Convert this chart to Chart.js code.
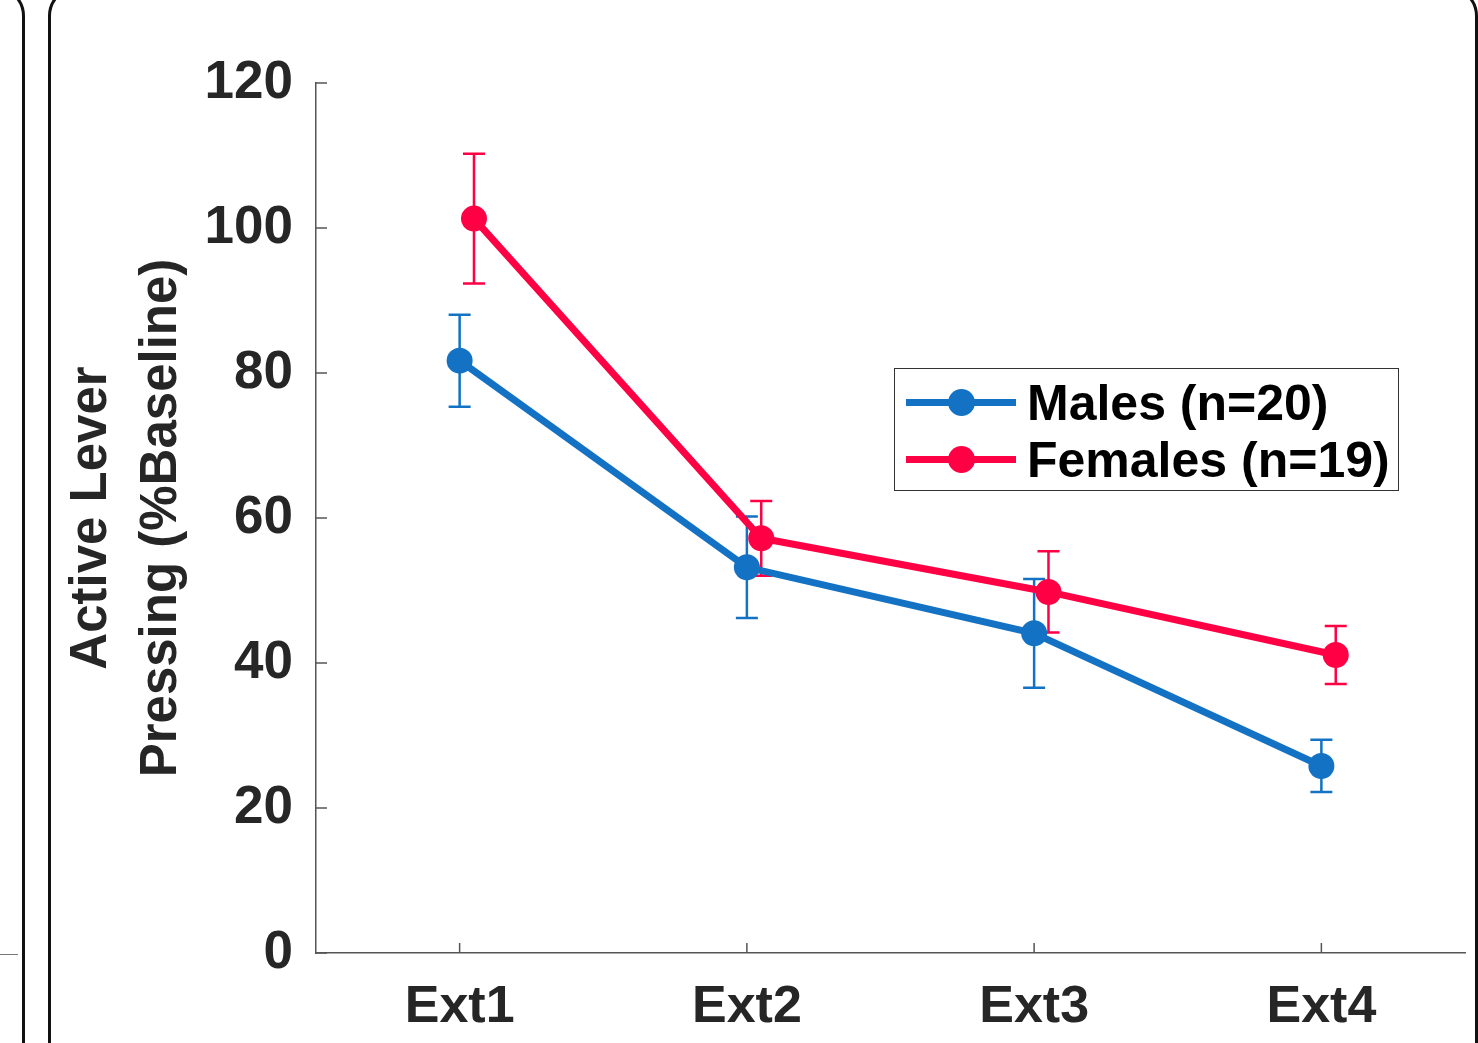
<!DOCTYPE html>
<html lang="en">
<head>
<meta charset="UTF-8">
<title>Active lever pressing during extinction</title>
<style>
  html, body { margin: 0; padding: 0; background: #fff; }
  body {
    width: 1478px;
    height: 1043px;
    position: relative;
    overflow: hidden;
    font-family: "Liberation Sans", Arial, sans-serif;
  }
  .panel {
    position: absolute;
    border: 3px solid #111;
    border-radius: 30px;
    box-sizing: border-box;
  }
  #panelLeft { left: -400px; top: -14px; width: 425px; height: 1200px; }
  #panelMain { left: 48px; top: -14px; width: 1430px; height: 1200px; }
  #stub { position: absolute; left: 0; top: 954px; width: 18px; border-top: 1.5px solid #777; }
  #chart { position: absolute; left: 0; top: 0; }
  #legend {
    position: absolute;
    left: 894px;
    top: 368px;
    width: 505px;
    height: 123px;
    box-sizing: border-box;
    border: 1.5px solid #333;
    background: #fff;
    padding: 5px 0 0 11px;
  }
  .row { display: flex; align-items: center; height: 57px; }
  .sample { position: relative; width: 110px; height: 57px; margin-right: 11px; }
  .sample .ln { position: absolute; left: 0; right: 0; top: 25px; height: 7px; }
  .sample .dot { position: absolute; left: 42px; top: 15px; width: 27px; height: 27px; border-radius: 50%; }
  .txt { font-weight: bold; font-size: 50px; color: #000; white-space: nowrap; }
</style>
<script src="https://cdn.jsdelivr.net/npm/chart.js"></script>
</head>
<body>

<div class="panel" id="panelLeft"></div>
<div class="panel" id="panelMain"></div>
<div id="stub"></div>
<canvas id="chart" width="1478" height="1043"></canvas>
<div id="legend"></div>

<script>
// data (mean +/- SEM, % of baseline)
const categories = ['Ext1', 'Ext2', 'Ext3', 'Ext4'];
const xMales = [1, 2, 3, 4];
const xFemales = [1.05, 2.05, 3.05, 4.05];
const malesMean = [81.7, 53.2, 44.1, 25.8];
const malesSem = [6.35, 7.0, 7.5, 3.6];
const femalesMean = [101.3, 57.2, 49.8, 41.1];
const femalesSem = [8.95, 5.15, 5.6, 4.0];
const yTicks = [0, 20, 40, 60, 80, 100, 120];
const seriesNames = ['Males (n=20)', 'Females (n=19)'];
const seriesColors = ['#1472C4', '#FF0045'];

const textColor = '#262626';
const axisColor = '#555';
const fontFamily = '"Liberation Sans", Arial, sans-serif';

function points(xs, ys) {
  return xs.map((x, i) => ({ x: x, y: ys[i] }));
}

// vertical error bars with caps, drawn under the lines
const errorBars = {
  id: 'errorBars',
  beforeDatasetsDraw(chart) {
    const ctx = chart.ctx;
    const xs = chart.scales.x, ys = chart.scales.y;
    chart.data.datasets.forEach(ds => {
      ctx.save();
      ctx.strokeStyle = ds.borderColor;
      ctx.lineWidth = 2.5;
      ds.data.forEach((p, i) => {
        const px = xs.getPixelForValue(p.x);
        const top = ys.getPixelForValue(p.y + ds.errors[i]);
        const bot = ys.getPixelForValue(p.y - ds.errors[i]);
        ctx.beginPath();
        ctx.moveTo(px, top); ctx.lineTo(px, bot);
        ctx.moveTo(px - 11, top); ctx.lineTo(px + 11, top);
        ctx.moveTo(px - 11, bot); ctx.lineTo(px + 11, bot);
        ctx.stroke();
      });
      ctx.restore();
    });
  }
};

// matlab style ticks pointing into the plot
const innerTicks = {
  id: 'innerTicks',
  afterDraw(chart) {
    const ctx = chart.ctx;
    const xs = chart.scales.x, ys = chart.scales.y;
    ctx.save();
    ctx.strokeStyle = axisColor;
    ctx.lineWidth = 1.5;
    ctx.beginPath();
    xs.ticks.forEach(t => {
      const px = xs.getPixelForValue(t.value);
      ctx.moveTo(px, xs.top); ctx.lineTo(px, xs.top - 10);
    });
    ys.ticks.forEach(t => {
      const py = ys.getPixelForValue(t.value);
      ctx.moveTo(ys.right, py); ctx.lineTo(ys.right + 11, py);
    });
    ctx.stroke();
    ctx.restore();
  }
};

new Chart(document.getElementById('chart'), {
  type: 'line',
  data: {
    datasets: [
      {
        label: seriesNames[0],
        data: points(xMales, malesMean),
        errors: malesSem,
        borderColor: seriesColors[0],
        backgroundColor: seriesColors[0],
        pointBackgroundColor: seriesColors[0],
        borderWidth: 7,
        pointRadius: 13,
        pointBorderWidth: 0,
        order: 1
      },
      {
        label: seriesNames[1],
        data: points(xFemales, femalesMean),
        errors: femalesSem,
        borderColor: seriesColors[1],
        backgroundColor: seriesColors[1],
        pointBackgroundColor: seriesColors[1],
        borderWidth: 7,
        pointRadius: 13,
        pointBorderWidth: 0,
        order: 0
      }
    ]
  },
  options: {
    responsive: false,
    animation: false,
    events: [],
    layout: { padding: { top: 83, right: 13, left: 0, bottom: 0 } },
    plugins: {
      legend: { display: false },
      tooltip: { enabled: false }
    },
    scales: {
      x: {
        type: 'linear',
        min: 0.5,
        max: 4.5,
        afterBuildTicks: s => { s.ticks = categories.map((c, i) => ({ value: i + 1 })); },
        afterFit: s => { s.height = 90; },
        ticks: {
          callback: v => categories[Math.round(v) - 1] || '',
          color: textColor,
          font: { family: fontFamily, size: 52, weight: 'bold' },
          padding: 23,
          maxRotation: 0
        },
        grid: { drawOnChartArea: false, drawTicks: false },
        border: { display: true, color: axisColor, width: 1.5 }
      },
      y: {
        min: 0,
        max: 120,
        afterBuildTicks: s => { s.ticks = yTicks.map(v => ({ value: v })); },
        afterFit: s => { s.width = 316; },
        ticks: {
          color: textColor,
          font: { family: fontFamily, size: 53, weight: 'bold' },
          padding: 23
        },
        grid: { drawOnChartArea: false, drawTicks: false },
        border: { display: true, color: axisColor, width: 1.5 },
        title: {
          display: true,
          text: ['Active Lever', 'Pressing (%Baseline)'],
          color: textColor,
          font: { family: fontFamily, size: 51, weight: 'bold', lineHeight: 1.37 },
          padding: { top: 57, bottom: 0 }
        }
      }
    }
  },
  plugins: [errorBars, innerTicks]
});

// legend box built from the same series arrays
const legend = document.getElementById('legend');
seriesNames.forEach((name, i) => {
  const row = document.createElement('div');
  row.className = 'row';
  row.innerHTML = '<div class="sample"><div class="ln"></div><div class="dot"></div></div><span class="txt"></span>';
  row.querySelector('.ln').style.background = seriesColors[i];
  row.querySelector('.dot').style.background = seriesColors[i];
  row.querySelector('.txt').textContent = name;
  legend.appendChild(row);
});
</script>

</body>
</html>
